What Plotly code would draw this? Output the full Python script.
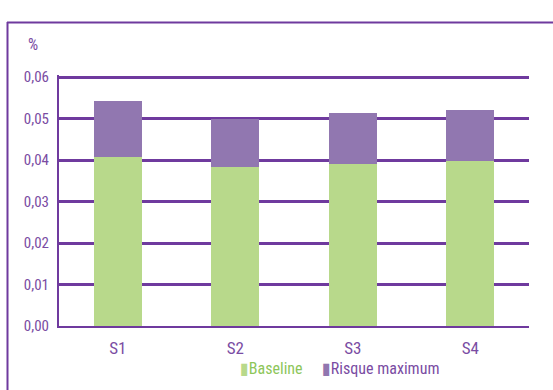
import plotly.graph_objects as go

# Scenario categories and stacked risk values (%)
categories = ["S1", "S2", "S3", "S4"]
baseline = [0.0407, 0.0384, 0.0391, 0.0398]
risque_max_extra = [0.0135, 0.0116, 0.0122, 0.0122]
series_names = ["Baseline", "Risque maximum"]
y_ticks = [0.00, 0.01, 0.02, 0.03, 0.04, 0.05, 0.06]
y_max = 0.0605

GREEN = "#B8D98B"
PURPLE = "#9177B0"
LINE = "#6F3A9E"
TEXT = "#7A4CA3"
GREEN_TEXT = "#8DC65A"
FONT = "Roboto Condensed, DejaVu Sans, sans-serif"

W, H = 553, 390
L, R, T, B = 59, 24, 75, 64
pw, ph = W - L - R, H - T - B


def px_x(x):
    return (x - L) / pw


def px_y(y):
    return (H - B - y) / ph


fig = go.Figure()
fig.add_trace(go.Bar(x=categories, y=baseline, name=series_names[0],
                     marker=dict(color=GREEN, line=dict(width=0)), width=0.41))
fig.add_trace(go.Bar(x=categories, y=risque_max_extra, name=series_names[1],
                     marker=dict(color=PURPLE, line=dict(width=0)), width=0.41))

# Outer frame: top and left rules
fig.add_shape(type="line", xref="paper", yref="paper",
              x0=px_x(7), x1=px_x(560), y0=px_y(22.5), y1=px_y(22.5),
              line=dict(color=LINE, width=2))
fig.add_shape(type="line", xref="paper", yref="paper",
              x0=px_x(7.5), x1=px_x(7.5), y0=px_y(22), y1=px_y(400),
              line=dict(color=LINE, width=2))

# Unit label
fig.add_annotation(text="%", xref="paper", yref="paper", x=px_x(33), y=px_y(44),
                   xanchor="center", yanchor="middle",
                   showarrow=False, font=dict(family=FONT, size=16, color=TEXT))

# Legend row: coloured marker glyph followed by the series name
legend_items = [
    (series_names[0], GREEN, GREEN_TEXT, 238),
    (series_names[1], PURPLE, TEXT, 320),
]
for name, mcol, tcol, xpos in legend_items:
    fig.add_annotation(
        text=f"<span style='color:{mcol}'>▮</span><span style='color:{tcol}'>{name}</span>",
        xref="paper", yref="paper", x=px_x(xpos), y=px_y(368),
        xanchor="left", yanchor="middle", showarrow=False,
        font=dict(family=FONT, size=16, color=tcol))

fig.update_layout(
    width=W, height=H,
    margin=dict(l=L, r=R, t=T, b=B, autoexpand=False),
    barmode="stack",
    separators=", ",
    paper_bgcolor="white", plot_bgcolor="white",
    font=dict(family=FONT, size=16, color=TEXT),
    showlegend=False,
    xaxis=dict(showline=True, linecolor=LINE, linewidth=2, showgrid=False,
               ticks="", ticklabelstandoff=6,
               tickfont=dict(family=FONT, size=17, color=TEXT)),
    yaxis=dict(range=[0, y_max], tickvals=y_ticks, tickformat=".2f",
               showline=True, linecolor=LINE, linewidth=2,
               showgrid=True, gridcolor=LINE, gridwidth=2.5,
               zeroline=False, ticks="", ticklabelstandoff=5,
               tickfont=dict(family=FONT, size=15, color=TEXT)),
)

fig.write_html("out.html")
